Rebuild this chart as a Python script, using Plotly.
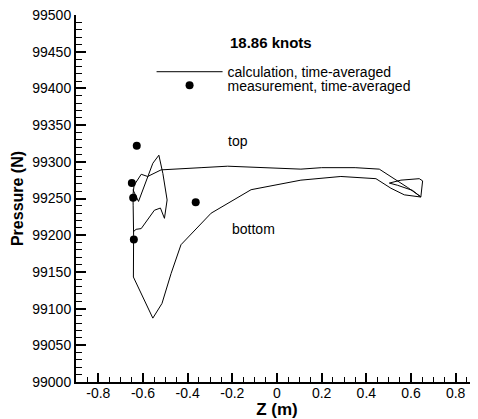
import plotly.graph_objects as go

# calculation (time-averaged), closed contour around the section
calc_z = [0.644, 0.641, 0.585, 0.532, 0.458, 0.35, 0.2, 0.107, -0.1, -0.221, -0.34, -0.519,
          -0.579, -0.608, -0.64, -0.645, -0.644, -0.642, -0.643, -0.556, -0.515, -0.474, -0.43,
          -0.295, -0.116, 0.107, 0.286, 0.443, 0.51, 0.57, 0.644, 0.652, 0.637, 0.555, 0.503,
          0.54, 0.607, 0.644,
          None,
          -0.645, -0.62, -0.556, -0.529, -0.511, -0.492, -0.504, -0.522, -0.549, -0.608, -0.631, -0.642]
calc_p = [99252, 99253, 99265, 99275, 99290, 99292, 99292, 99290, 99292, 99294, 99292, 99289,
          99280, 99283, 99268, 99255, 99240, 99200, 99143, 99087, 99107, 99148, 99187,
          99230, 99262, 99275, 99280, 99277, 99264, 99255, 99252, 99274, 99277, 99275, 99271,
          99268, 99261, 99252,
          None,
          99262, 99246, 99298, 99309, 99284, 99248, 99223, 99237, 99234, 99209, 99208, 99205]

# measurement (time-averaged)
meas_z = [-0.628, -0.650, -0.644, -0.641, -0.364]
meas_p = [99322, 99271, 99251, 99194, 99245]

x_ticks = [-0.8, -0.6, -0.4, -0.2, 0, 0.2, 0.4, 0.6, 0.8]
x_tick_labels = ["-0.8", "-0.6", "-0.4", "-0.2", "0", "0.2", "0.4", "0.6", "0.8"]
y_ticks = [99000, 99050, 99100, 99150, 99200, 99250, 99300, 99350, 99400, 99450, 99500]

FONT = "Liberation Sans, Arial, sans-serif"

fig = go.Figure()
fig.add_trace(go.Scatter(x=calc_z, y=calc_p, mode="lines", name="calculation, time-averaged",
                         line=dict(color="black", width=1), connectgaps=False, legend="legend"))
fig.add_trace(go.Scatter(x=meas_z, y=meas_p, mode="markers", name="measurement, time-averaged",
                         marker=dict(color="black", size=8), legend="legend2"))

fig.add_annotation(x=-0.219, y=99463, text="<b>18.86 knots</b>", showarrow=False,
                   xanchor="left", yanchor="middle", font=dict(size=15, color="black", family=FONT))
fig.add_annotation(x=-0.176, y=99329, text="top", showarrow=False,
                   xanchor="center", yanchor="middle", font=dict(size=14, color="black", family=FONT))
fig.add_annotation(x=-0.105, y=99208, text="bottom", showarrow=False,
                   xanchor="center", yanchor="middle", font=dict(size=14, color="black", family=FONT))

legend_common = dict(xanchor="left", yanchor="top", bgcolor="rgba(0,0,0,0)",
                     font=dict(size=14, family=FONT), tracegroupgap=0, itemwidth=66)

# the page body has an 8px margin, so the figure is sized to end at the window edge
fig.update_layout(
    width=470, height=411,
    margin=dict(l=68, r=0, t=7, b=37, autoexpand=False),
    paper_bgcolor="white", plot_bgcolor="white",
    font=dict(family=FONT, size=14, color="black"),
    showlegend=True,
    legend=dict(x=0.188, y=0.888, **legend_common),
    legend2=dict(x=0.188, y=0.851, **legend_common),
    xaxis=dict(range=[-0.9, 0.9], tickvals=x_ticks, ticktext=x_tick_labels, automargin=False,
               showgrid=False, zeroline=False, showline=True, linecolor="black", linewidth=2,
               ticks="inside", ticklen=9, tickwidth=2, tickcolor="black", ticklabelstandoff=-3,
               ticklabeloverflow="allow",
               minor=dict(dtick=0.05, tick0=0, ticks="inside", ticklen=5, tickwidth=1, tickcolor="black"),
               title=dict(text="<b>Z (m)</b>", font=dict(size=17, family=FONT), standoff=1),
               tickfont=dict(size=14, family=FONT)),
    yaxis=dict(range=[99000, 99500], tickvals=y_ticks, tickformat="d", automargin=False,
               showgrid=False, zeroline=False, showline=True, linecolor="black", linewidth=2,
               ticks="inside", ticklen=10, tickwidth=2, tickcolor="black",
               ticklabeloverflow="allow",
               minor=dict(dtick=10, tick0=99000, ticks="inside", ticklen=6, tickwidth=1, tickcolor="black"),
               title=dict(text="<b>Pressure (N)</b>", font=dict(size=16, family=FONT), standoff=5),
               tickfont=dict(size=14, family=FONT)),
)

fig.write_html("out.html")
